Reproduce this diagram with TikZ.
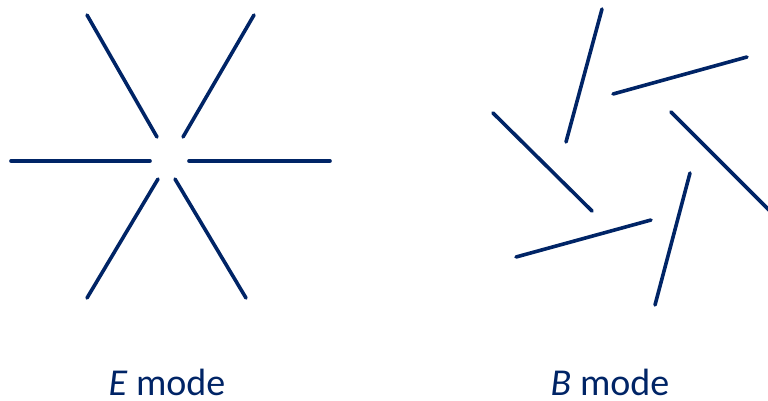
\documentclass[tikz,border=0pt]{standalone}
\usepackage{fontspec}
\setmainfont{Carlito}
\definecolor{navy}{RGB}{0,36,102}
\tikzset{
  stick/.style={draw=navy, line width=3.6pt, line cap=round},
  caption/.style={text=navy, font=\fontsize{38}{42}\selectfont, anchor=base, inner sep=0pt}
}
\begin{document}
\begin{tikzpicture}[x=1pt, y=-1pt]
\useasboundingbox (0,0) rectangle (768,400);
\clip (0,0) rectangle (768,400);

% E mode: radial pattern
\draw[stick] (87,15) -- (157,137);
\draw[stick] (254,15) -- (183,137);
\draw[stick] (11,161) -- (150,161);
\draw[stick] (189,161) -- (330,161);
\draw[stick] (158,179) -- (87,298);
\draw[stick] (175,179) -- (246,298);

% B mode: curl pattern
\draw[stick] (602,9) -- (566,142);
\draw[stick] (613,94) -- (747,57);
\draw[stick] (493,113) -- (592,211);
\draw[stick] (671,112) -- (771,212);
\draw[stick] (516,257) -- (651,220);
\draw[stick] (690,173) -- (655,305);

\node[caption] (emode) at (167,395) {\textit{E} mode};
\node[caption] (bmode) at (610,395) {\textit{B} mode};
\end{tikzpicture}
\end{document}
